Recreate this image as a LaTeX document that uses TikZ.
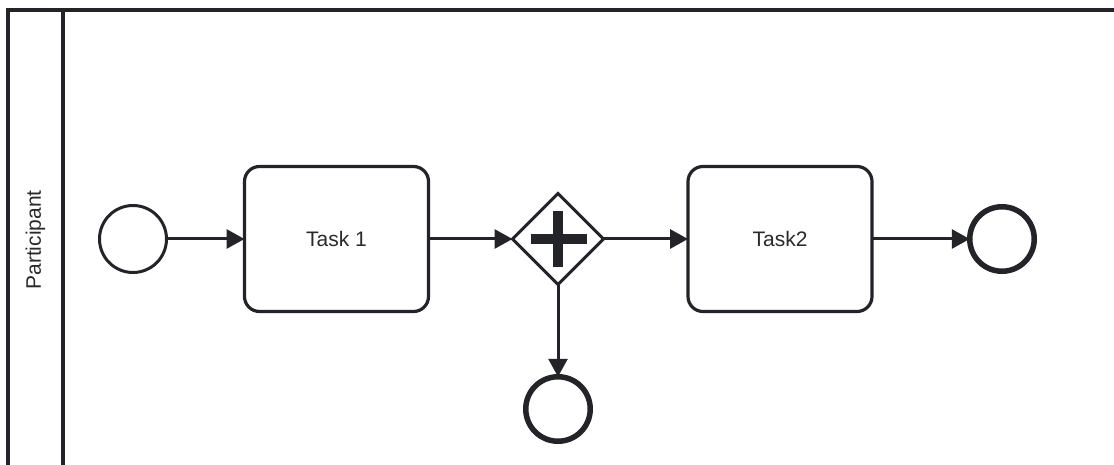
\documentclass[tikz,border=0pt]{standalone}
\usepackage{fontspec}
\setmainfont{Liberation Sans}
\usetikzlibrary{arrows.meta,shapes.geometric}
\definecolor{ink}{HTML}{22242A}
\definecolor{txt}{HTML}{2A2A2C}
\begin{document}
\begin{tikzpicture}[x=1pt,y=-1pt,
  every node/.style={inner sep=0pt, outer sep=0pt},
  lbl/.style={font=\fontsize{21}{25}\selectfont, text=txt},
  startev/.style={circle, draw=ink, line width=3pt, minimum size=67pt, fill=white},
  endev/.style={circle, draw=ink, line width=5.5pt, minimum size=64.5pt, fill=white},
  taskbox/.style={rectangle, rounded corners=15pt, draw=ink, line width=3.2pt, minimum width=184pt, minimum height=145pt, lbl},
  gate/.style={diamond, aspect=1, draw=ink, line width=3pt, minimum size=91pt},
  flow/.style={draw=ink, line width=3pt, -{Triangle[length=18pt,width=19pt]}},
  poolline/.style={draw=ink, line width=3.4pt}
]
\useasboundingbox (0,0) rectangle (1114,465);
\fill[white] (0,0) rectangle (1114,465);
% pool
\coordinate (pbl) at (8,470);
\coordinate (ptl) at (8,10);
\coordinate (ptr) at (1120,10);
\coordinate (ltop) at (63,10);
\coordinate (lbot) at (63,470);
\draw[poolline] (pbl) -- (ptl) -- (ptr);
\draw[poolline] (ltop) -- (lbot);
\node[lbl, rotate=90] (part) at (35.5,240) {Participant};
% elements
\node[startev] (start) at (133,239) {};
\node[taskbox] (t1) at (336.5,239) {Task 1};
\node[gate] (gw) at (558,239) {};
\node[taskbox] (t2) at (780,239) {Task2};
\node[endev] (e1) at (1002,239) {};
\node[endev] (e2) at (558,409) {};
% plus marker
\fill[ink] (531,234) rectangle (587,244);
\fill[ink] (553,211) rectangle (563,267);
% flows
\draw[flow] (start) -- (t1);
\draw[flow] (t1) -- (gw);
\draw[flow] (gw) -- (t2);
\draw[flow] (t2) -- (e1);
\draw[flow] (gw) -- (e2);
\end{tikzpicture}
\end{document}
